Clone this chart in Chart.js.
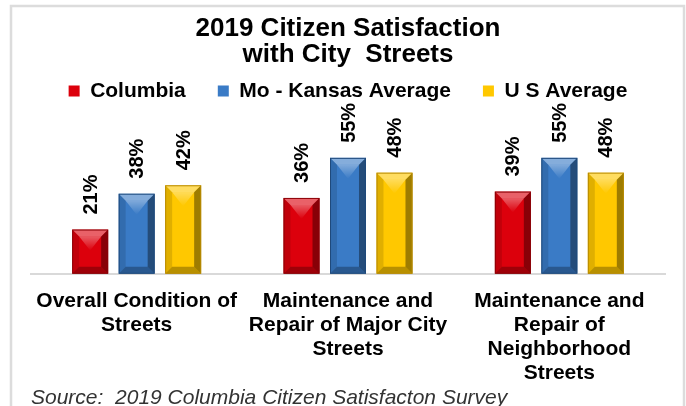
<!DOCTYPE html>
<html>
<head>
<meta charset="utf-8">
<script src="https://cdn.jsdelivr.net/npm/chart.js@4/dist/chart.umd.min.js"></script>
<style>
  html, body { margin: 0; padding: 0; background: #ffffff; }
  #wrap { width: 686px; height: 406px; position: relative; }
</style>
</head>
<body>
<div id="wrap"><canvas id="c"></canvas></div>
<script>
const titleLines = ['2019 Citizen Satisfaction', 'with City  Streets'];
const sourceText = 'Source:  2019 Columbia Citizen Satisfacton Survey';
const categories = [
  ['Overall Condition of', 'Streets'],
  ['Maintenance and', 'Repair of Major City', 'Streets'],
  ['Maintenance and', 'Repair of', 'Neighborhood', 'Streets']
];
const seriesNames = ['Columbia', 'Mo - Kansas Average', 'U S Average'];
const columbia = [21, 36, 39];
const moKansas = [38, 55, 55];
const usAverage = [42, 48, 48];

const FONT = '"Liberation Sans", Arial, sans-serif';
const baseColors = ['#dc000c', '#3a7bc6', '#ffc800'];
const edgeColors = ['#8a0006', '#1f4a7c', '#b88a00'];

const framePlugin = {
  id: 'frame',
  beforeDraw(chart) {
    const ctx = chart.ctx;
    ctx.save();
    ctx.fillStyle = '#ffffff';
    ctx.fillRect(0, 0, chart.width, chart.height);
    ctx.strokeStyle = '#dcdcdc';
    ctx.lineWidth = 2.5;
    ctx.strokeRect(11, 6, 673, 520);
    ctx.restore();
  }
};

const bevelPlugin = {
  id: 'bevel',
  afterDatasetsDraw(chart) {
    const ctx = chart.ctx;
    chart.data.datasets.forEach((ds, di) => {
      const meta = chart.getDatasetMeta(di);
      if (meta.hidden) return;
      meta.data.forEach((bar, i) => {
        const p = bar.getProps(['x', 'y', 'base', 'width'], true);
        const x0 = p.x - p.width / 2, x1 = p.x + p.width / 2;
        const y0 = Math.min(p.y, p.base), y1 = Math.max(p.y, p.base);
        const b = Math.min(7, p.width / 4, (y1 - y0) / 4);
        ctx.save();
        ctx.beginPath();
        ctx.moveTo(x0, y0); ctx.lineTo(x1, y0); ctx.lineTo(x1 - b, y0 + b); ctx.lineTo(x0 + b, y0 + b); ctx.closePath();
        ctx.fillStyle = 'rgba(255,255,255,0.38)'; ctx.fill();
        ctx.beginPath();
        ctx.moveTo(x0, y0); ctx.lineTo(x0 + b, y0 + b); ctx.lineTo(x0 + b, y1 - b); ctx.lineTo(x0, y1); ctx.closePath();
        ctx.fillStyle = 'rgba(0,0,0,0.12)'; ctx.fill();
        ctx.beginPath();
        ctx.moveTo(x1, y0); ctx.lineTo(x1 - b, y0 + b); ctx.lineTo(x1 - b, y1 - b); ctx.lineTo(x1, y1); ctx.closePath();
        ctx.fillStyle = 'rgba(0,0,0,0.38)'; ctx.fill();
        ctx.beginPath();
        ctx.moveTo(x0, y1); ctx.lineTo(x0 + b, y1 - b); ctx.lineTo(x1 - b, y1 - b); ctx.lineTo(x1, y1); ctx.closePath();
        ctx.fillStyle = 'rgba(0,0,0,0.28)'; ctx.fill();
        const g = ctx.createLinearGradient(0, y0 + b, 0, y0 + b + 14);
        g.addColorStop(0, 'rgba(255,255,255,0.35)');
        g.addColorStop(1, 'rgba(255,255,255,0)');
        ctx.beginPath();
        ctx.moveTo(x0 + b, y0 + b); ctx.lineTo(x1 - b, y0 + b); ctx.lineTo(p.x, y0 + b + 14); ctx.closePath();
        ctx.fillStyle = g; ctx.fill();
        ctx.strokeStyle = edgeColors[di];
        ctx.lineWidth = 1;
        ctx.strokeRect(x0 + 0.5, y0 + 0.5, p.width - 1, y1 - y0 - 1);
        ctx.restore();
      });
    });
  }
};

const valueLabelPlugin = {
  id: 'valueLabels',
  afterDatasetsDraw(chart) {
    const ctx = chart.ctx;
    chart.data.datasets.forEach((ds, di) => {
      const meta = chart.getDatasetMeta(di);
      if (meta.hidden) return;
      meta.data.forEach((bar, i) => {
        const p = bar.getProps(['x', 'y'], true);
        ctx.save();
        ctx.translate(p.x + 1, p.y - 15);
        ctx.rotate(-Math.PI / 2);
        ctx.font = 'bold 20px ' + FONT;
        ctx.fillStyle = '#000000';
        ctx.textAlign = 'left';
        ctx.textBaseline = 'middle';
        ctx.fillText(ds.data[i] + '%', 0, 0);
        ctx.restore();
      });
    });
  }
};

const seriesData = [columbia, moKansas, usAverage];

new Chart(document.getElementById('c'), {
  type: 'bar',
  data: {
    labels: categories,
    datasets: seriesNames.map((name, k) => ({
      label: name,
      data: seriesData[k],
      backgroundColor: baseColors[k],
      borderColor: edgeColors[k],
      borderWidth: 0,
      categoryPercentage: 0.66,
      barPercentage: 0.774
    }))
  },
  options: {
    responsive: true,
    maintainAspectRatio: false,
    devicePixelRatio: 1,
    animation: false,
    layout: { padding: { left: 31, right: 21, top: 0, bottom: 0 } },
    plugins: {
      title: {
        display: true,
        text: titleLines,
        color: '#000000',
        font: { family: FONT, size: 26, weight: 'bold', lineHeight: 1.0 },
        padding: { top: 16, bottom: -19.5 }
      },
      subtitle: {
        display: true,
        position: 'bottom',
        align: 'start',
        text: sourceText,
        color: '#333333',
        font: { family: FONT, size: 21, style: 'italic', weight: 'normal', lineHeight: 1.2 },
        padding: { top: 0, bottom: -5 }
      },
      legend: {
        display: true,
        position: 'top',
        labels: {
          color: '#000000',
          font: { family: FONT, size: 21, weight: 'bold' },
          boxWidth: 11,
          boxHeight: 11,
          padding: 32
        }
      },
      tooltip: { enabled: false }
    },
    scales: {
      x: {
        grid: { display: true, drawOnChartArea: false, drawTicks: false },
        border: { display: true, color: '#d9d9d9', width: 2 },
        ticks: {
          color: '#000000',
          font: { family: FONT, size: 21, weight: 'bold', lineHeight: 1.13 },
          padding: 16,
          maxRotation: 0,
          minRotation: 0,
          autoSkip: false
        },
        afterFit(scale) { scale.height = 112; }
      },
      y: {
        display: false,
        min: 0,
        max: 77
      }
    }
  },
  plugins: [framePlugin, bevelPlugin, valueLabelPlugin]
});
</script>
</body>
</html>
